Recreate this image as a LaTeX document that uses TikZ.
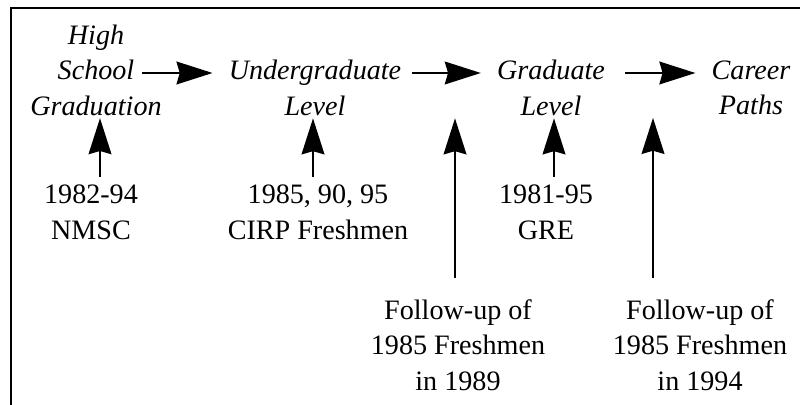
\documentclass[tikz,border=0pt]{standalone}
\usepackage{fontspec}
\setmainfont{Liberation Serif}
\usetikzlibrary{arrows.meta}

\begin{document}
\begin{tikzpicture}[x=0.025cm, y=-0.025cm,
        stage/.style={align=center, inner sep=0pt, font=\fontsize{20}{25.3}\selectfont\itshape},
        source/.style={align=center, inner sep=0pt, font=\fontsize{20}{25.3}\selectfont},
        flow/.style={-{Stealth[length=0.9cm, width=0.57cm, inset=0.08cm]}, line width=0.05cm}]

        \useasboundingbox (0,0) rectangle (800,405);
        \draw[line width=0.05cm] (11,405) |- (800,8);

        % stages along the top
        \node[stage] (hs) at (96,70) {High\\School\\Graduation};
        \node[stage] (ug) at (315,88) {Undergraduate\\Level};
        \node[stage] (gr) at (551,88) {Graduate\\Level};
        \node[stage] (cp) at (751,88) {Career\\Paths};

        % data sources
        \node[source] (nmsc) at (91,212) {1982-94\\NMSC};
        \node[source] (cirp) at (318,212) {1985, 90, 95\\CIRP Freshmen};
        \node[source] (gre) at (546,212) {1981-95\\GRE};
        \node[source] (fu89) at (458,345) {Follow-up of\\1985 Freshmen\\in 1989};
        \node[source] (fu94) at (700,345) {Follow-up of\\1985 Freshmen\\in 1994};

        \coordinate (s1) at (142,73);
        \coordinate (s2) at (412,73);
        \coordinate (s3) at (625,73);
        \draw[flow, shorten >=0.4cm] (s1) -- (s1 -| ug.west);
        \draw[flow, shorten >=0.4cm] (s2) -- (s2 -| gr.west);
        \draw[flow, shorten >=0.4cm] (s3) -- (s3 -| cp.west);

        \coordinate (v1) at (100,177);
        \coordinate (v2) at (313,177);
        \coordinate (v3) at (455,278);
        \coordinate (v4) at (554,177);
        \coordinate (v5) at (653,278);
        \draw[flow, shorten >=0.06cm] (v1) -- (v1 |- hs.south);
        \draw[flow, shorten >=0.06cm] (v2) -- (v2 |- ug.south);
        \draw[flow, shorten >=0.06cm] (v3) -- (v3 |- gr.south);
        \draw[flow, shorten >=0.06cm] (v4) -- (v4 |- gr.south);
        \draw[flow, shorten >=0.06cm] (v5) -- (v5 |- cp.south);
\end{tikzpicture}
\end{document}
